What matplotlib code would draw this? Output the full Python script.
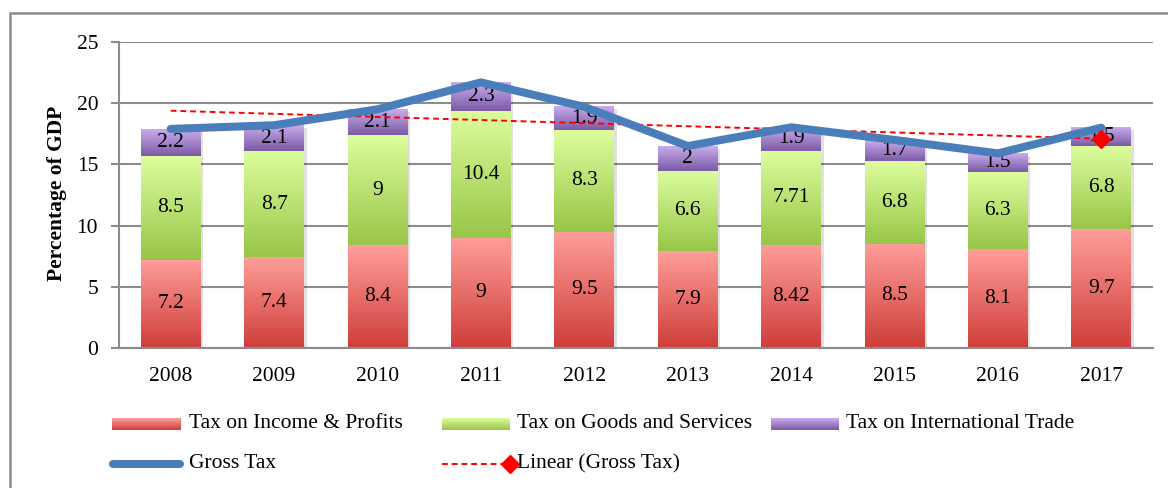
import numpy as np
import matplotlib
matplotlib.use("Agg")
import matplotlib.pyplot as plt
from matplotlib.patches import Rectangle
import matplotlib.transforms as mtransforms

# ---- data ----
years = ['2008', '2009', '2010', '2011', '2012', '2013', '2014', '2015', '2016', '2017']
income = [7.2, 7.4, 8.4, 9, 9.5, 7.9, 8.42, 8.5, 8.1, 9.7]
goods = [8.5, 8.7, 9, 10.4, 8.3, 6.6, 7.71, 6.8, 6.3, 6.8]
trade = [2.2, 2.1, 2.1, 2.3, 1.9, 2, 1.9, 1.7, 1.5, 1.5]
gross = [17.9, 18.2, 19.5, 21.7, 19.7, 16.5, 18.03, 17.0, 15.9, 18.0]
series_names = ['Tax on Income & Profits', 'Tax on Goods and Services', 'Tax on International Trade']
line_name = 'Gross Tax'
trend_name = 'Linear (Gross Tax)'
y_label = 'Percentage of GDP'
y_ticks = [0, 5, 10, 15, 20, 25]

# ---- style ----
plt.rcParams['font.family'] = ['Liberation Serif', 'DejaVu Serif']
FS = 15.5
W, H = 1168, 488
grad_cols = [((255, 157, 153), (206, 62, 58)),
             ((221, 253, 157), (152, 198, 72)),
             ((201, 172, 235), (124, 90, 166))]
grid_col = '#8C8C8C'
blue = '#4A7EBB'

fig = plt.figure(figsize=(W / 100, H / 100), dpi=100)
ax = fig.add_axes([119 / W, 1 - 348 / H, (1153 - 119) / W, (348 - 42) / H])

def gradient(top, bot, n=64):
    t = np.linspace(0, 1, n)[:, None]
    a = np.array(top)[None, :] / 255.0
    b = np.array(bot)[None, :] / 255.0
    return (a * (1 - t) + b * t)[:, None, :]

x = np.arange(len(years))
bw = 0.58
series = [income, goods, trade]
bottoms = np.zeros(len(years))
shadow_tr = ax.transData + mtransforms.ScaledTranslation(2.5 / 100, -2.5 / 100, fig.dpi_scale_trans)
totals = np.sum(series, axis=0)
for i in range(len(years)):
    ax.add_patch(Rectangle((x[i] - bw / 2, 0), bw, totals[i], transform=shadow_tr,
                           facecolor='#000000', alpha=0.12, edgecolor='none', zorder=1.5))
for s, vals in enumerate(series):
    top_c, bot_c = grad_cols[s]
    img = gradient(top_c, bot_c)
    for i, v in enumerate(vals):
        b0 = bottoms[i]
        ax.imshow(img, extent=(x[i] - bw / 2, x[i] + bw / 2, b0, b0 + v), origin='upper',
                  aspect='auto', zorder=2, interpolation='bilinear')
        ax.text(x[i], b0 + v / 2, f"{v:g}", ha='center', va='center', fontsize=FS, zorder=3)
    bottoms = bottoms + np.array(vals)

# Gross tax line
ax.plot(x, gross, color=blue, lw=5.8, solid_capstyle='round', solid_joinstyle='miter', zorder=5)

# Linear trend
coef = np.polyfit(x, gross, 1)
trend = np.polyval(coef, x)
ax.plot(x, trend, color='#FF0000', lw=1.4, ls=(0, (3, 2)), zorder=4)
ax.plot([x[-1]], [trend[-1]], marker='D', color='#FF0000', ms=9, zorder=6)

ax.set_xlim(-0.5, len(years) - 0.5)
ax.set_ylim(0, 25)
ax.set_yticks(y_ticks)
ax.set_xticks(x)
ax.set_xticklabels(years)
ax.tick_params(axis='y', length=6, width=1.5, color=grid_col, pad=9, labelsize=FS)
ax.tick_params(axis='x', length=0, pad=14, labelsize=FS)
ax.grid(axis='y', color=grid_col, lw=1.5)
ax.set_axisbelow(True)
for sp in ['top', 'right']:
    ax.spines[sp].set_visible(False)
for sp in ['left', 'bottom']:
    ax.spines[sp].set_color(grid_col)
    ax.spines[sp].set_linewidth(1.5)

fig.text(57 / W, 1 - 193 / H, y_label, rotation=90, ha='center', va='center',
         fontsize=15.5, fontweight='bold')

# ---- overlay for border & legend (pixel coordinates) ----
ov = fig.add_axes([0, 0, 1, 1], zorder=-1)
ov.set_xlim(0, W)
ov.set_ylim(H, 0)
ov.axis('off')
ov.plot([10, 10, W], [H, 13, 13], color='#8C8C8C', lw=1.8, solid_joinstyle='miter')

lg = fig.add_axes([0, 0, 1, 1], zorder=10)
lg.set_xlim(0, W)
lg.set_ylim(H, 0)
lg.axis('off')
patch_x = [112, 442, 771]
patch_w = [69, 68, 68]
text_x = [189, 517, 846]
ry = 424
for s in range(3):
    lg.imshow(gradient(*grad_cols[s]), extent=(patch_x[s], patch_x[s] + patch_w[s], ry + 6, ry - 6),
              origin='upper', aspect='auto', interpolation='bilinear')
    lg.text(text_x[s], ry, series_names[s], ha='left', va='center', fontsize=FS)
ry2 = 464
lg.plot([113, 180], [ry2, ry2], color=blue, lw=5.8, solid_capstyle='round')
lg.text(189, ry2, line_name, ha='left', va='center', fontsize=FS)
lg.plot([442, 508], [ry2, ry2], color='#FF0000', lw=1.4, ls=(0, (3, 2)))
lg.plot([509.5], [ry2], marker='D', color='#FF0000', ms=9)
lg.text(517, ry2, trend_name, ha='left', va='center', fontsize=FS)
lg.set_xlim(0, W)
lg.set_ylim(H, 0)

fig.savefig('out.png', dpi=100)
